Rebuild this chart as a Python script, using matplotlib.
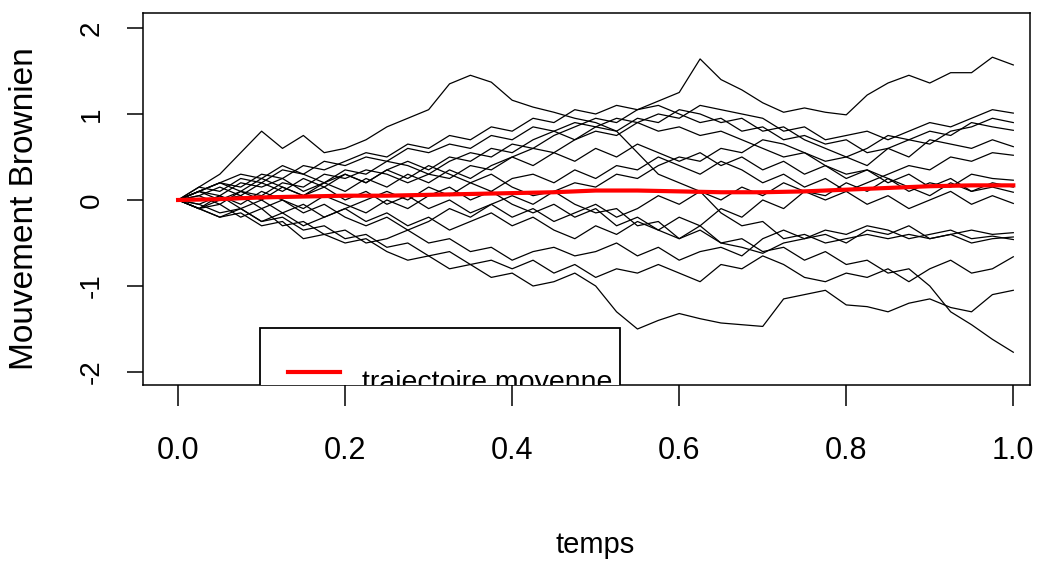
import numpy as np
import matplotlib
matplotlib.use('Agg')
import matplotlib.pyplot as plt
from matplotlib.patches import Rectangle

# grille de temps des trajectoires (pas 0.025)
temps = np.linspace(0, 1, 41)

# trajectoires
traj_01 = [0, .1, .2, .15, .3, .25, .4, .35, .45, .55, .5, .65, .6, .75, .7, .85, .8, .95, .9, 1.05,
           1.0, 1.1, 1.05, 1.15, 1.25, 1.64, 1.4, 1.28, 1.13, 1.02, 1.07, 1.02, .99, 1.22, 1.36, 1.45,
           1.36, 1.48, 1.48, 1.66, 1.57]
traj_02 = [0, .15, .3, .55, .8, .6, .75, .55, .6, .7, .85, .95, 1.05, 1.35, 1.45, 1.37, 1.16, 1.08,
           1.02, .95, .9, .8, .55, .3, .2, .1, -.15, -.3, -.25, -.45, -.4, -.5, -.45, -.4, -.45, -.4,
           -.45, -.4, -.5, -.45, -.43]
traj_03 = [0, -.1, .05, -.05, .1, 0, -.1, .05, -.05, -.15, 0, -.1, .05, .15, 0, .1, -.05, -.15, -.05,
           -.2, -.1, -.3, -.2, -.35, -.45, -.3, -.5, -.45, -.6, -.55, -.7, -.6, -.75, -.7, -.85, -.8,
           -1.0, -1.3, -1.45, -1.62, -1.77]
traj_04 = [0, -.1, -.2, -.15, -.3, -.25, -.45, -.4, -.5, -.45, -.6, -.7, -.65, -.8, -.75, -.9, -.85,
           -1.0, -.95, -.85, -1.0, -1.3, -1.5, -1.4, -1.32, -1.38, -1.43, -1.45, -1.47, -1.15, -1.1,
           -1.05, -1.22, -1.24, -1.3, -1.2, -1.15, -1.25, -1.3, -1.1, -1.05]
traj_05 = [0, -.05, -.15, -.1, -.25, -.2, -.35, -.3, -.45, -.4, -.55, -.5, -.65, -.6, -.75, -.7, -.8,
           -.7, -.85, -.75, -.9, -.8, -.85, -.75, -.85, -.95, -.75, -.8, -.65, -.75, -.9, -.95, -.85,
           -.9, -.8, -.95, -.8, -.7, -.85, -.8, -.66]
traj_06 = [0, .1, .05, .2, .15, .25, .1, .2, .3, .2, .35, .25, .4, .3, .2, .3, .15, .05, .1, -.05,
           -.15, -.1, -.3, -.25, -.45, -.35, -.5, -.55, -.62, -.5, -.45, -.35, -.4, -.3, -.35, -.45,
           -.4, -.35, -.45, -.42, -.46]
traj_07 = [0, -.1, -.05, -.2, -.1, -.3, -.25, -.4, -.35, -.5, -.45, -.35, -.5, -.45, -.6, -.55, -.7,
           -.6, -.55, -.65, -.6, -.5, -.65, -.55, -.7, -.6, -.55, -.65, -.45, -.35, -.45, -.4, -.5,
           -.35, -.4, -.3, -.45, -.4, -.35, -.4, -.38]
traj_08 = [0, .1, .2, .1, .25, .15, .05, .15, 0, .1, -.05, .05, -.1, 0, -.15, -.05, -.2, -.1, -.25,
           -.15, -.05, -.2, -.1, .05, -.05, .1, 0, .15, .05, .2, .1, 0, .1, -.05, .05, -.1, 0, .1,
           -.05, .05, -.04]
traj_09 = [0, -.1, -.2, -.1, -.25, -.15, -.3, -.2, -.1, -.25, -.15, -.3, -.2, -.35, -.25, -.15, -.3,
           -.2, -.35, -.45, -.3, -.4, -.25, -.35, -.2, -.3, -.1, -.2, 0, -.1, .1, .05, .2, .1, .25,
           .15, .05, .2, .1, .15, .09]
traj_10 = [0, .05, -.05, .1, 0, .15, .05, .2, .1, .25, .15, .3, .2, .35, .25, .4, .5, .4, .55, .45,
           .6, .5, .65, .55, .45, .55, .4, .5, .35, .45, .3, .4, .25, .35, .2, .3, .15, .25, .1, .2, .15]
traj_11 = [0, .15, .1, .25, .2, .35, .3, .45, .4, .5, .45, .6, .55, .65, .6, .75, .7, .85, .8, .9,
           .85, .95, .9, .8, .85, .75, .8, .7, .6, .5, .55, .4, .3, .35, .25, .1, .2, .15, .3, .25, .23]
traj_12 = [0, -.05, .05, -.1, 0, -.15, -.05, -.2, -.1, 0, .1, 0, .15, .05, .2, .1, .25, .3, .2, .35,
           .25, .4, .35, .5, .4, .3, .45, .35, .2, .3, .15, .25, .1, .2, .3, .4, .35, .5, .45, .55, .52]
traj_13 = [0, .1, 0, .05, -.1, 0, -.15, -.05, -.2, -.3, -.2, -.35, -.25, -.1, -.2, -.05, .05, -.05,
           .1, .2, .15, .3, .25, .4, .5, .45, .6, .55, .7, .65, .55, .45, .5, .4, .6, .5, .7, .65, .6,
           .7, .62]
traj_14 = [0, .05, .15, .05, .2, .1, .25, .15, .3, .2, .35, .45, .35, .5, .45, .6, .55, .7, .8, .7,
           .85, .8, .95, .9, 1.05, 1.0, .9, .95, .8, .85, .7, .6, .5, .6, .75, .7, .8, .75, .9, .85, .81]
traj_15 = [0, -.1, 0, .1, .05, .2, .15, .3, .25, .35, .3, .2, .3, .25, .4, .35, .5, .6, .55, .7, .8,
           .75, .9, 1.0, .95, 1.1, 1.05, 1.0, .95, .8, .85, .7, .75, .8, .7, .8, .9, .85, .95, 1.05, 1.01]
traj_16 = [0, .1, .2, .3, .25, .4, .3, .2, .35, .3, .45, .4, .3, .45, .55, .5, .65, .6, .75, .85, .95,
           .9, 1.05, 1.1, 1.0, .9, .95, .8, .85, .7, .75, .65, .7, .55, .6, .7, .65, .8, .85, .95, .9]

trajectoires = [traj_01, traj_02, traj_03, traj_04, traj_05, traj_06, traj_07, traj_08,
                traj_09, traj_10, traj_11, traj_12, traj_13, traj_14, traj_15, traj_16]

# trajectoire moyenne (rouge)
temps_moy = np.linspace(0, 1, 21)
moyenne = [0, .01, .03, .04, .05, .05, .06, .07, .08, .09, .11, .11, .10, .09, .09, .10,
           .12, .14, .16, .17, .17]

x_ticks = [0.0, 0.2, 0.4, 0.6, 0.8, 1.0]
y_ticks = [-2, -1, 0, 1, 2]
legende = 'trajectoire moyenne'

plt.rcParams['font.family'] = ['Liberation Sans', 'DejaVu Sans']

fig = plt.figure(figsize=(10.39, 5.65), dpi=100)
ax = fig.add_axes([143 / 1039, 1 - 385 / 565, 887 / 1039, 372 / 565])

for tr in trajectoires:
    ax.plot(temps, tr, color='black', linewidth=0.9)
ax.plot(temps_moy, moyenne, color='red', linewidth=3)

ax.set_xlim(-0.042, 1.020)
ax.set_ylim(-2.151, 2.174)

ax.set_xticks(x_ticks)
ax.set_xticklabels([f'{v:.1f}' for v in x_ticks], fontsize=22)
ax.set_yticks(y_ticks)
ax.set_yticklabels([str(v) for v in y_ticks], rotation=90, va='center', fontsize=20)
ax.tick_params(axis='x', length=15, width=1.1, pad=22)
ax.tick_params(axis='y', length=11.5, width=1.1, pad=16)
for s in ax.spines.values():
    s.set_linewidth(1.1)

# legende (coupee par le bas du cadre, comme dans R)
ax.add_patch(Rectangle((0.098, -3.5), 0.431, 3.5 - 1.488, facecolor='white',
                       edgecolor='black', linewidth=1.3, clip_on=True, zorder=5))
ax.plot([0.132, 0.194], [-2.0, -2.0], color='red', linewidth=3, zorder=6)
ax.text(0.220, -2.21, legende, fontsize=20.5, va='baseline', ha='left',
        clip_on=True, zorder=6)

fig.text(595 / 1039, 1 - 545 / 565, 'temps', fontsize=21,
         ha='center', va='center')
fig.text(25 / 1039, 1 - 209 / 565, 'Mouvement Brownien', fontsize=24, rotation=90,
         ha='center', va='center')

fig.savefig('out.png', dpi=100)
